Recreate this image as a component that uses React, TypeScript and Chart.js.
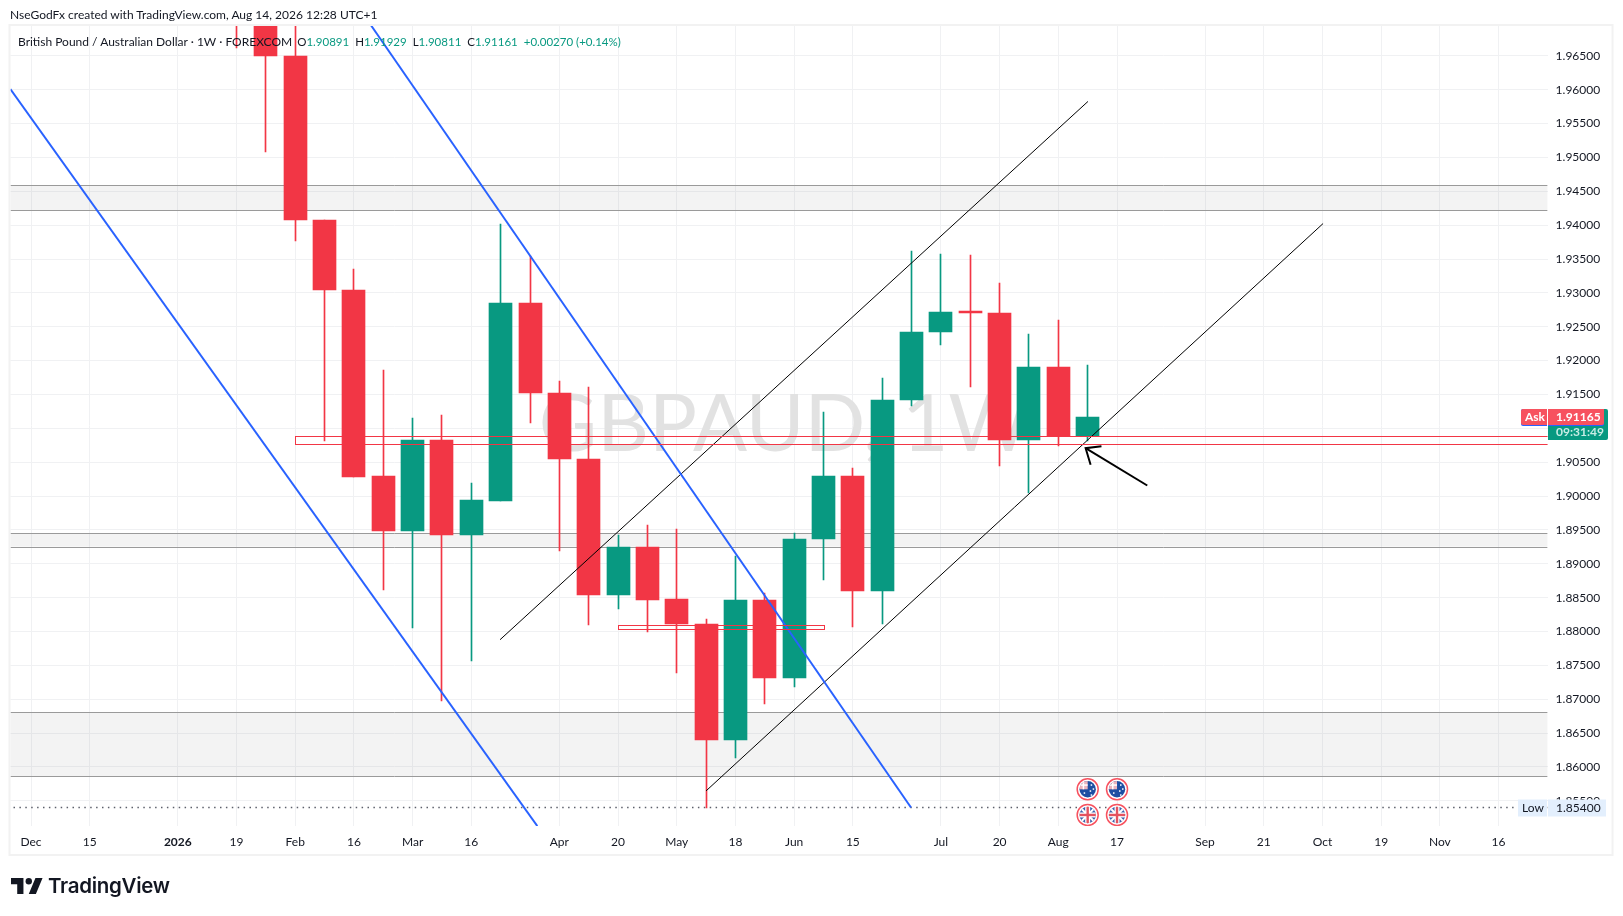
import React, { useEffect, useRef } from "react";
import { Chart, registerables } from "chart.js";

Chart.register(...registerables);

// ---- data ----
const weekIndex = [7,8,9,10,11,12,13,14,15,16,17,18,19,20,21,22,23,24,25,26,27,28,29,30,31,32,33,34,35,36];
const opens  = [1.98,1.9712,1.965,1.9407,1.93045,1.90294,1.89484,1.90829,1.89423,1.89927,1.92847,1.91517,1.90554,1.88536,1.89254,1.88475,1.88108,1.86396,1.8846,1.87313,1.89361,1.90294,1.88597,1.91425,1.92419,1.9274,1.92709,1.90829,1.91899,1.90891];
const highs  = [1.985,1.9725,1.9712,1.9407,1.93351,1.91868,1.9115,1.91196,1.90187,1.94024,1.9355,1.917,1.91608,1.89423,1.89575,1.89514,1.88184,1.89117,1.88567,1.89453,1.91242,1.90416,1.91746,1.93626,1.9358,1.93565,1.93152,1.92388,1.92602,1.91929];
const lows   = [1.96622,1.95078,1.93764,1.90814,1.90279,1.88612,1.88047,1.86977,1.87558,1.89927,1.91073,1.89193,1.88093,1.88337,1.87986,1.8739,1.854,1.86136,1.86931,1.87176,1.88765,1.88062,1.88108,1.91333,1.92235,1.91608,1.90447,1.90049,1.90737,1.90811];
const closes = [1.9712,1.965,1.9407,1.93045,1.90279,1.89484,1.90829,1.89423,1.89942,1.92847,1.91517,1.90554,1.88536,1.89254,1.8846,1.88108,1.86396,1.8846,1.87313,1.89361,1.90294,1.88597,1.91425,1.92419,1.92724,1.92709,1.90829,1.91899,1.90891,1.91161];

const xTickIndex = [0,2,5,7,9,11,13,15,18,20,22,24,26,28,31,33,35,37,40,42,44,46,48,50];
const xTickLabels = ["Dec","15","2026","19","Feb","16","Mar","16","Apr","20","May","18","Jun","15","Jul","20","Aug","17","Sep","21","Oct","19","Nov","16"];
const priceTicks = [1.855,1.86,1.865,1.87,1.875,1.88,1.885,1.89,1.895,1.9,1.905,1.91,1.915,1.92,1.925,1.93,1.935,1.94,1.945,1.95,1.955,1.96,1.965];

const blueLineA = [{ x: -0.705, y: 1.96011 }, { x: 17.25, y: 1.85127 }];
const blueLineB = [{ x: 11.57, y: 1.96959 }, { x: 29.98, y: 1.85402 }];
const blackLineA = [{ x: 15.98, y: 1.87879 }, { x: 36.01, y: 1.95827 }];
const blackLineB = [{ x: 23.0, y: 1.85647 }, { x: 44.02, y: 1.94024 }];
const arrowShaft = [{ x: 38.03, y: 1.90156 }, { x: 35.93, y: 1.90707 }];
const arrowHead = [{ x: 36.47, y: 1.90737 }, { x: 35.93, y: 1.90707 }, { x: 36.1, y: 1.90462 }];
const lowLine = [{ x: -1, y: 1.854 }, { x: 52, y: 1.854 }];

const greyZones = [[1.94589, 1.94222], [1.89453, 1.89254], [1.86809, 1.85861]];
const redBoxes = [
  { from: 9, to: 52, top: 1.90891, bottom: 1.90768 },
  { from: 20, to: 27.02, top: 1.88093, bottom: 1.88032 },
];
const flagWeeks = [36, 37];
const flagPriceAU = 1.8567;
const flagPriceUK = 1.85291;

const askPrice = 1.91165;
const lowPrice = 1.854;
const countdown = "09:31:49";
const watermark = "GBPAUD, 1W";
const creditText = "NseGodFx created with TradingView.com, Aug 14, 2026 12:28 UTC+1";
const symbolText = "British Pound / Australian Dollar · 1W · FOREXCOM";
const ohlcText = [["O", "1.90891"], ["H", "1.91929"], ["L", "1.90811"], ["C", "1.91161"]];
const changeText = "+0.00270 (+0.14%)";

const GREEN = "#089981";
const RED = "#f23645";
const FONT = "Lato, 'Noto Sans', sans-serif";

const overlays = {
  id: "overlays",
  afterDatasetsUpdate(chart: any) {
    // snap candle wicks and bodies to whole device pixels
    for (const idx of [0, 1]) {
      for (const el of chart.getDatasetMeta(idx).data as any[]) {
        el.x = Math.floor(el.x) + 0.5;
        el.y = Math.round(el.y);
        el.base = Math.round(el.base);
      }
    }
  },
  beforeDatasetsDraw(chart: any) {
    const { ctx, chartArea: a, scales: { y } } = chart;
    ctx.save();
    ctx.beginPath();
    ctx.rect(a.left, a.top, a.width, a.height);
    ctx.clip();
    ctx.fillStyle = "#e2e2e2";
    ctx.font = "80px " + FONT;
    ctx.textAlign = "center";
    ctx.textBaseline = "middle";
    ctx.fillText(watermark, (a.left + a.right) / 2 + 6, (a.top + a.bottom) / 2);
    for (const [hi, lo] of greyZones) {
      const t = y.getPixelForValue(hi), b = y.getPixelForValue(lo);
      ctx.fillStyle = "rgba(120,120,120,0.09)";
      ctx.fillRect(a.left, t, a.width, b - t);
      ctx.strokeStyle = "#9a9a9a";
      ctx.lineWidth = 1;
      ctx.beginPath();
      ctx.moveTo(a.left, Math.round(t) + 0.5); ctx.lineTo(a.right, Math.round(t) + 0.5);
      ctx.moveTo(a.left, Math.round(b) + 0.5); ctx.lineTo(a.right, Math.round(b) + 0.5);
      ctx.stroke();
    }
    ctx.restore();
  },
  afterDatasetsDraw(chart: any) {
    const { ctx, chartArea: a, scales: { x, y } } = chart;
    ctx.save();
    ctx.beginPath();
    ctx.rect(a.left, a.top, a.width, a.height);
    ctx.clip();
    ctx.strokeStyle = RED;
    ctx.lineWidth = 1;
    for (const r of redBoxes) {
      const l = Math.round(x.getPixelForValue(r.from)) + 0.5;
      const rr = Math.round(x.getPixelForValue(r.to)) + 0.5;
      const t = Math.round(y.getPixelForValue(r.top)) + 0.5;
      const b = Math.round(y.getPixelForValue(r.bottom)) + 0.5;
      ctx.strokeRect(l, t, rr - l, b - t);
    }
    for (const w of flagWeeks) {
      const cx = x.getPixelForValue(w);
      const drawBadge = (cy: number, base: string) => {
        ctx.beginPath();
        ctx.arc(cx, cy, 10.5, 0, Math.PI * 2);
        ctx.fillStyle = "#fff";
        ctx.fill();
        ctx.strokeStyle = "#f7525f";
        ctx.lineWidth = 1.5;
        ctx.stroke();
        ctx.beginPath();
        ctx.arc(cx, cy, 8.2, 0, Math.PI * 2);
        ctx.fillStyle = base;
        ctx.fill();
      };
      const au = y.getPixelForValue(flagPriceAU);
      drawBadge(au, "#1d4fa3");
      ctx.save();
      ctx.beginPath();
      ctx.arc(cx, au, 8.2, 0, Math.PI * 2);
      ctx.clip();
      ctx.fillStyle = "#eab4bc";
      ctx.fillRect(cx - 9, au - 9, 9, 9);
      ctx.fillStyle = "#fff";
      ctx.fillRect(cx - 9, au - 5, 9, 1.5);
      ctx.fillRect(cx - 5, au - 9, 1.5, 9);
      for (const [dx, dy] of [[3, -5], [5, -1], [2, 1], [3, 5], [-4, 3]]) ctx.fillRect(cx + dx, au + dy, 1.5, 1.5);
      ctx.restore();
      const uk = y.getPixelForValue(flagPriceUK);
      drawBadge(uk, "#3b62ad");
      ctx.save();
      ctx.beginPath();
      ctx.arc(cx, uk, 8.2, 0, Math.PI * 2);
      ctx.clip();
      ctx.strokeStyle = "#fff";
      ctx.lineWidth = 2;
      ctx.beginPath();
      ctx.moveTo(cx - 8, uk - 8); ctx.lineTo(cx + 8, uk + 8);
      ctx.moveTo(cx + 8, uk - 8); ctx.lineTo(cx - 8, uk + 8);
      ctx.stroke();
      ctx.fillStyle = "#fff";
      ctx.fillRect(cx - 9, uk - 2.5, 18, 5);
      ctx.fillRect(cx - 2.5, uk - 9, 5, 18);
      ctx.fillStyle = "#e4525f";
      ctx.fillRect(cx - 9, uk - 1.2, 18, 2.4);
      ctx.fillRect(cx - 1.2, uk - 9, 2.4, 18);
      ctx.restore();
    }
    ctx.restore();
  },
  afterDraw(chart: any) {
    const { ctx, scales: { y } } = chart;
    ctx.save();
    // frame
    ctx.strokeStyle = "#f2f2f2";
    ctx.lineWidth = 2;
    ctx.strokeRect(9.5, 25, 1603, 830);
    // price tags
    const tagL = 1548, tagW = 60;
    const askY = Math.round(y.getPixelForValue(askPrice));
    ctx.textBaseline = "middle";
    ctx.textAlign = "left";
    const rr = (px: number, py: number, w: number, h: number, r: any, fill: string) => {
      ctx.fillStyle = fill;
      ctx.beginPath();
      ctx.roundRect(px, py, w, h, r);
      ctx.fill();
    };
    rr(tagL, askY - 8, tagW, 31, [0, 2, 2, 0], GREEN);
    rr(tagL, askY - 8, 56, 17, [0, 0, 2, 0], "#2962ff");
    rr(tagL, askY - 8, 56, 16, [0, 0, 2, 0], "#f7525f");
    rr(1521, askY - 8, 26, 17, [2, 0, 0, 2], "#2962ff");
    rr(1521, askY - 8, 26, 16, [2, 0, 0, 2], "#f7525f");
    ctx.font = "700 12px " + FONT;
    ctx.fillStyle = "#fff";
    ctx.fillText("Ask", 1525, askY);
    ctx.fillText(askPrice.toFixed(5), tagL + 8, askY);
    ctx.fillStyle = "#c8ece4";
    ctx.fillText(countdown, tagL + 8, askY + 15);
    const lowY = Math.round(y.getPixelForValue(lowPrice));
    rr(tagL, lowY - 8.5, 58, 17, 0, "#e3effd");
    rr(1518, lowY - 8.5, 29, 17, 0, "#e3effd");
    ctx.font = "12px " + FONT;
    ctx.fillStyle = "#131722";
    ctx.fillText("Low", 1522, lowY);
    ctx.fillText(lowPrice.toFixed(5), tagL + 8, lowY);
    ctx.restore();
  },
};

const span = { whiteSpace: "nowrap" as const, position: "absolute" as const };

export default function App() {
  const ref = useRef<HTMLCanvasElement>(null);
  useEffect(() => {
    const lineDs = (data: any[], color: string, width: number, extra: any = {}) => ({
      type: "line", data, borderColor: color, borderWidth: width, pointRadius: 0,
      tension: 0, fill: false, order: 0, ...extra,
    });
    const isUp = (i: number) => closes[i] >= opens[i];
    const chart = new Chart(ref.current!, {
      type: "bar",
      data: {
        datasets: [
          {
            label: "wicks",
            data: weekIndex.map((w, i) => ({ x: w, y: [lows[i], highs[i]] })),
            backgroundColor: weekIndex.map((_, i) => (isUp(i) ? GREEN : RED)),
            barThickness: 1, grouped: false, order: 2,
          },
          {
            label: "bodies",
            data: weekIndex.map((w, i) => ({ x: w, y: [opens[i], closes[i]] })),
            backgroundColor: weekIndex.map((_, i) => (isUp(i) ? GREEN : RED)),
            barThickness: 23, grouped: false, order: 1, minBarLength: 2,
          },
          lineDs(lowLine, "#5d606b", 1.5, { borderDash: [1.5, 4.4], order: 3 }),
          lineDs(blueLineA, "#2962ff", 2),
          lineDs(blueLineB, "#2962ff", 2),
          lineDs(blackLineA, "#000000", 1),
          lineDs(blackLineB, "#000000", 1),
          lineDs(arrowShaft, "#000000", 2),
          lineDs(arrowHead, "#000000", 2),
        ] as any,
      },
      options: {
        animation: false,
        responsive: false,
        devicePixelRatio: 1,
        layout: { padding: { left: 10.35, top: 25, right: 0, bottom: 0 } },
        plugins: { legend: { display: false }, tooltip: { enabled: false } },
        scales: {
          x: {
            type: "linear", min: -0.705, max: 51.67, offset: false,
            afterFit: (s: any) => { s.height = 90; },
            afterBuildTicks: (s: any) => { s.ticks = xTickIndex.map((v) => ({ value: v })); },
            grid: { color: "#f0f1f3", offset: false, drawTicks: false },
            border: { display: false },
            ticks: {
              autoSkip: false, maxRotation: 0, padding: 9, color: "#131722",
              font: (c: any) => ({ family: FONT, size: 12, weight: c.tick && c.tick.value === 5 ? "700" : "400" }),
              callback: (v: any) => xTickLabels[xTickIndex.indexOf(v)] ?? "",
            },
          },
          y: {
            type: "linear", position: "right", min: 1.85128, max: 1.96956,
            afterFit: (s: any) => { s.width = 75.4; },
            afterBuildTicks: (s: any) => { s.ticks = priceTicks.map((v) => ({ value: v })); },
            grid: { color: "#f0f1f3", drawTicks: false },
            border: { display: false },
            ticks: {
              padding: 8, color: "#131722", crossAlign: "near",
              font: { family: FONT, size: 12 },
              callback: (v: any) => Number(v).toFixed(5),
            },
          },
        },
      },
      plugins: [overlays],
    } as any);
    return () => chart.destroy();
  }, []);

  return (
    <div style={{ position: "absolute", left: 0, top: 0, width: 1623, height: 916, overflow: "hidden", background: "#fff", fontFamily: FONT, color: "#131722" }}>
      <canvas ref={ref} width={1623} height={916} style={{ position: "absolute", left: 0, top: 0 }} />
      <div style={{ ...span, left: 10, top: 7, fontSize: 12 }}>{creditText}</div>
      <div style={{ ...span, left: 18, top: 34, fontSize: 12 }}>
        <span>{symbolText}</span>
        <span style={{ marginLeft: 5, fontSize: 11.5 }}>
          {ohlcText.map(([k, v]) => (
            <span key={k} style={{ marginRight: 6 }}>{k}<span style={{ color: GREEN }}>{v}</span></span>
          ))}
          <span style={{ color: GREEN }}>{changeText}</span>
        </span>
      </div>
      <svg style={{ position: "absolute", left: 11, top: 878 }} width="32" height="16" viewBox="0 0 36 18">
        <path d="M14 18H7V7H0V0h14zM28 18h-8L27.5 0h8z" fill="#131722" />
        <circle cx="20" cy="3.6" r="3.6" fill="#131722" />
      </svg>
      <div style={{ ...span, left: 48, top: 873, fontSize: 20.5, fontWeight: 600, fontFamily: "Inter, sans-serif", letterSpacing: -0.3 }}>TradingView</div>
    </div>
  );
}
